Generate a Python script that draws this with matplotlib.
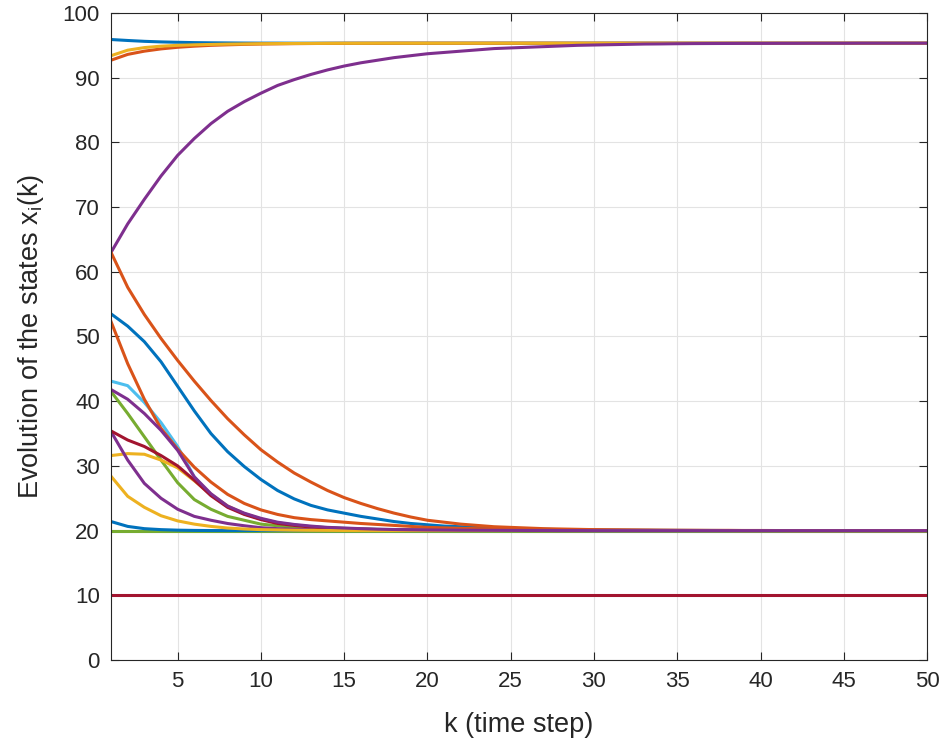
import numpy as np
import matplotlib
matplotlib.use("Agg")
import matplotlib.pyplot as plt

plt.rcParams['font.family'] = ['Liberation Sans', 'DejaVu Sans']
plt.rcParams['mathtext.fontset'] = 'custom'
plt.rcParams['mathtext.rm'] = 'Liberation Sans'
plt.rcParams['mathtext.default'] = 'regular'

# time steps
k = np.arange(1, 51)

# states that settle near 95.3
top_blue = [95.90, 95.75, 95.62, 95.53, 95.47, 95.42, 95.39, 95.37, 95.35, 95.34,
            95.34, 95.33, 95.33, 95.33, 95.33, 95.33, 95.33, 95.33, 95.33, 95.33,
            95.33, 95.33, 95.33, 95.33, 95.33, 95.33, 95.33, 95.33, 95.33, 95.33,
            95.33, 95.33, 95.33, 95.33, 95.33, 95.33, 95.33, 95.33, 95.33, 95.33,
            95.33, 95.33, 95.33, 95.33, 95.33, 95.33, 95.33, 95.33, 95.33, 95.33]
top_orange = [92.70, 93.60, 94.10, 94.45, 94.70, 94.87, 95.00, 95.08, 95.15, 95.20,
              95.23, 95.26, 95.28, 95.30, 95.31, 95.32, 95.32, 95.33, 95.33, 95.33,
              95.33, 95.33, 95.33, 95.33, 95.33, 95.33, 95.33, 95.33, 95.33, 95.33,
              95.33, 95.33, 95.33, 95.33, 95.33, 95.33, 95.33, 95.33, 95.33, 95.33,
              95.33, 95.33, 95.33, 95.33, 95.33, 95.33, 95.33, 95.33, 95.33, 95.33]
top_yellow = [93.40, 94.25, 94.65, 94.87, 95.00, 95.08, 95.14, 95.19, 95.22, 95.25,
              95.27, 95.29, 95.30, 95.31, 95.32, 95.32, 95.33, 95.33, 95.33, 95.33,
              95.33, 95.33, 95.33, 95.33, 95.33, 95.33, 95.33, 95.33, 95.33, 95.33,
              95.33, 95.33, 95.33, 95.33, 95.33, 95.33, 95.33, 95.33, 95.33, 95.33,
              95.33, 95.33, 95.33, 95.33, 95.33, 95.33, 95.33, 95.33, 95.33, 95.33]
top_purple = [63.00, 67.40, 71.20, 74.80, 78.00, 80.60, 82.90, 84.80, 86.30, 87.60,
              88.80, 89.70, 90.50, 91.20, 91.80, 92.30, 92.70, 93.10, 93.40, 93.70,
              93.90, 94.10, 94.30, 94.50, 94.60, 94.70, 94.80, 94.90, 95.00, 95.05,
              95.10, 95.15, 95.20, 95.22, 95.25, 95.27, 95.28, 95.29, 95.30, 95.30,
              95.31, 95.31, 95.32, 95.32, 95.32, 95.33, 95.33, 95.33, 95.33, 95.33]

# states that settle near 20
green_41 = [41.50, 38.10, 34.50, 30.90, 27.40, 24.80, 23.30, 22.20, 21.60, 21.00,
            20.75, 20.50, 20.35, 20.25, 20.18, 20.13, 20.10, 20.07, 20.05, 20.04,
            20.03, 20.02, 20.02, 20.01, 20.01, 20.00, 20.00, 20.00, 20.00, 20.00,
            20.00, 20.00, 20.00, 20.00, 20.00, 20.00, 20.00, 20.00, 20.00, 20.00,
            20.00, 20.00, 20.00, 20.00, 20.00, 20.00, 20.00, 20.00, 20.00, 20.00]
lblue_43 = [43.10, 42.40, 39.80, 36.70, 33.00, 28.30, 25.50, 23.70, 22.60, 21.80,
            21.20, 20.90, 20.60, 20.45, 20.35, 20.27, 20.20, 20.15, 20.12, 20.10,
            20.08, 20.06, 20.05, 20.04, 20.03, 20.02, 20.02, 20.01, 20.01, 20.00,
            20.00, 20.00, 20.00, 20.00, 20.00, 20.00, 20.00, 20.00, 20.00, 20.00,
            20.00, 20.00, 20.00, 20.00, 20.00, 20.00, 20.00, 20.00, 20.00, 20.00]
dred_35 = [35.40, 34.00, 33.00, 31.60, 30.00, 27.80, 25.40, 23.60, 22.50, 21.70,
           21.10, 20.80, 20.55, 20.40, 20.30, 20.22, 20.16, 20.12, 20.09, 20.07,
           20.05, 20.04, 20.03, 20.02, 20.02, 20.01, 20.01, 20.00, 20.00, 20.00,
           20.00, 20.00, 20.00, 20.00, 20.00, 20.00, 20.00, 20.00, 20.00, 20.00,
           20.00, 20.00, 20.00, 20.00, 20.00, 20.00, 20.00, 20.00, 20.00, 20.00]
blue_53 = [53.50, 51.60, 49.20, 46.10, 42.30, 38.50, 35.00, 32.20, 29.90, 27.90,
           26.20, 24.90, 23.90, 23.20, 22.70, 22.20, 21.80, 21.40, 21.10, 20.90,
           20.70, 20.60, 20.50, 20.40, 20.30, 20.25, 20.20, 20.15, 20.12, 20.10,
           20.08, 20.06, 20.05, 20.04, 20.03, 20.02, 20.02, 20.01, 20.01, 20.00,
           20.00, 20.00, 20.00, 20.00, 20.00, 20.00, 20.00, 20.00, 20.00, 20.00]
orange_63 = [63.00, 57.60, 53.40, 49.70, 46.30, 43.10, 40.10, 37.30, 34.80, 32.50,
             30.60, 28.90, 27.50, 26.20, 25.10, 24.20, 23.40, 22.70, 22.10, 21.60,
             21.30, 21.00, 20.80, 20.60, 20.50, 20.40, 20.30, 20.25, 20.20, 20.15,
             20.12, 20.10, 20.08, 20.06, 20.05, 20.04, 20.03, 20.03, 20.02, 20.02,
             20.01, 20.01, 20.01, 20.00, 20.00, 20.00, 20.00, 20.00, 20.00, 20.00]
yellow_31 = [31.60, 31.90, 31.80, 30.90, 29.70, 27.70, 25.60, 23.80, 22.60, 21.80,
             21.20, 20.85, 20.60, 20.45, 20.33, 20.25, 20.18, 20.13, 20.10, 20.07,
             20.05, 20.04, 20.03, 20.02, 20.01, 20.01, 20.00, 20.00, 20.00, 20.00,
             20.00, 20.00, 20.00, 20.00, 20.00, 20.00, 20.00, 20.00, 20.00, 20.00,
             20.00, 20.00, 20.00, 20.00, 20.00, 20.00, 20.00, 20.00, 20.00, 20.00]
purple_35 = [35.30, 30.90, 27.30, 25.00, 23.30, 22.20, 21.60, 21.10, 20.75, 20.45,
             20.30, 20.20, 20.13, 20.09, 20.06, 20.04, 20.03, 20.02, 20.01, 20.01,
             20.00, 20.00, 20.00, 20.00, 20.00, 20.00, 20.00, 20.00, 20.00, 20.00,
             20.00, 20.00, 20.00, 20.00, 20.00, 20.00, 20.00, 20.00, 20.00, 20.00,
             20.00, 20.00, 20.00, 20.00, 20.00, 20.00, 20.00, 20.00, 20.00, 20.00]
green_20 = [20.00] * 50
lblue_20 = [20.00] * 50
dred_10 = [10.00] * 50
blue_21 = [21.40, 20.65, 20.30, 20.15, 20.07, 20.03, 20.01, 20.00, 20.00, 20.00,
           20.00, 20.00, 20.00, 20.00, 20.00, 20.00, 20.00, 20.00, 20.00, 20.00,
           20.00, 20.00, 20.00, 20.00, 20.00, 20.00, 20.00, 20.00, 20.00, 20.00,
           20.00, 20.00, 20.00, 20.00, 20.00, 20.00, 20.00, 20.00, 20.00, 20.00,
           20.00, 20.00, 20.00, 20.00, 20.00, 20.00, 20.00, 20.00, 20.00, 20.00]
orange_52 = [52.30, 45.80, 40.30, 35.80, 32.60, 29.80, 27.50, 25.60, 24.20, 23.20,
             22.50, 22.00, 21.70, 21.50, 21.30, 21.10, 20.95, 20.80, 20.65, 20.50,
             20.42, 20.35, 20.30, 20.25, 20.20, 20.17, 20.14, 20.12, 20.10, 20.08,
             20.07, 20.06, 20.05, 20.04, 20.03, 20.03, 20.02, 20.02, 20.01, 20.01,
             20.01, 20.00, 20.00, 20.00, 20.00, 20.00, 20.00, 20.00, 20.00, 20.00]
yellow_28 = [28.40, 25.30, 23.60, 22.30, 21.50, 21.00, 20.65, 20.40, 20.25, 20.15,
             20.10, 20.06, 20.04, 20.03, 20.02, 20.01, 20.00, 20.00, 20.00, 20.00,
             20.00, 20.00, 20.00, 20.00, 20.00, 20.00, 20.00, 20.00, 20.00, 20.00,
             20.00, 20.00, 20.00, 20.00, 20.00, 20.00, 20.00, 20.00, 20.00, 20.00,
             20.00, 20.00, 20.00, 20.00, 20.00, 20.00, 20.00, 20.00, 20.00, 20.00]
purple_42 = [41.80, 40.30, 38.10, 35.50, 32.40, 28.30, 25.70, 23.80, 22.70, 21.90,
             21.30, 20.95, 20.70, 20.50, 20.40, 20.30, 20.22, 20.17, 20.13, 20.10,
             20.08, 20.06, 20.05, 20.04, 20.03, 20.02, 20.02, 20.01, 20.01, 20.00,
             20.00, 20.00, 20.00, 20.00, 20.00, 20.00, 20.00, 20.00, 20.00, 20.00,
             20.00, 20.00, 20.00, 20.00, 20.00, 20.00, 20.00, 20.00, 20.00, 20.00]

states = [top_blue, top_orange, top_yellow, top_purple,
          green_41, lblue_20, dred_10,
          blue_53, orange_63, yellow_31, purple_35,
          green_20, lblue_43, dred_35,
          blue_21, orange_52, yellow_28, purple_42]

# default line colour order, cycled over the states
cycle = ['#0072BD', '#D95319', '#EDB120', '#7E2F8E', '#77AC30', '#4DBEEE', '#A2142F']

fig = plt.figure(figsize=(9.45, 7.42), dpi=100)
ax = fig.add_axes([0.1175, 0.1105, 0.8635, 0.872])

for i, x in enumerate(states):
    ax.plot(k, x, color=cycle[i % len(cycle)], linewidth=2.2, solid_joinstyle='round')

ax.set_xlim(1, 50)
ax.set_ylim(0, 100)
ax.set_xticks(np.arange(5, 51, 5))
ax.set_yticks(np.arange(0, 101, 10))
ax.grid(True, color='#E3E3E3', linewidth=0.8)
ax.set_axisbelow(True)

axis_col = '#262626'
for s in ax.spines.values():
    s.set_color(axis_col)
    s.set_linewidth(0.8)
ax.tick_params(direction='in', length=5.5, width=0.8, color=axis_col,
               labelcolor=axis_col, labelsize=16, top=True, right=True, pad=8)

ax.set_xlabel('k (time step)', fontsize=19.5, color=axis_col, labelpad=14)
ax.set_ylabel('Evolution of the states x$_{i}$(k)', fontsize=19.5, color=axis_col, labelpad=12)

fig.savefig('out.png', dpi=100)
